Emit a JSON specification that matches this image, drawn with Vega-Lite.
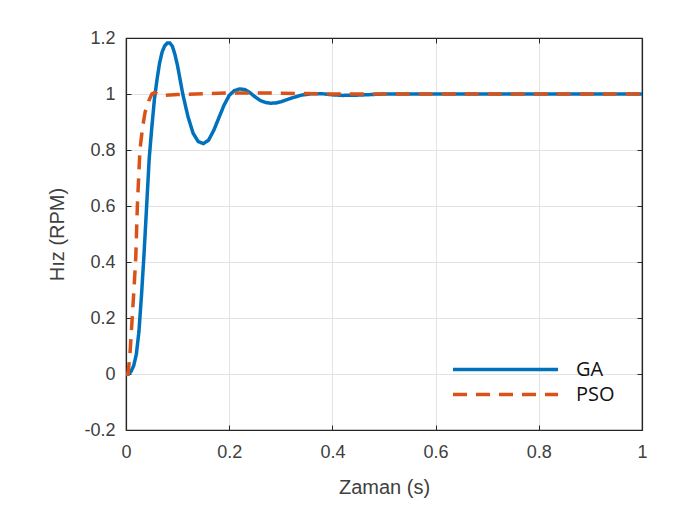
{
  "$schema": "https://vega.github.io/schema/vega-lite/v6.json",
  "width": 516,
  "height": 392,
  "autosize": {"type": "none"},
  "padding": {"left": 126, "top": 38, "right": 37, "bottom": 82},
  "background": "white",
  "config": {
    "view": {"stroke": "#262626", "strokeWidth": 1.2},
    "font": "Liberation Sans",
    "axis": {
      "labelFont": "Liberation Sans",
      "titleFont": "Liberation Sans",
      "labelColor": "#404040",
      "titleColor": "#404040",
      "labelFontSize": 18,
      "titleFontSize": 20,
      "titleFontWeight": "normal",
      "domainColor": "#262626",
      "tickColor": "#262626",
      "gridColor": "#e3e3e3",
      "gridWidth": 1,
      "labelFlush": false
    }
  },
  "data": {
    "values": [
      {"t": 0, "y": 0, "series": "GA"},
      {"t": 0.005, "y": 0, "series": "GA"},
      {"t": 0.01, "y": 0.01, "series": "GA"},
      {"t": 0.015, "y": 0.03, "series": "GA"},
      {"t": 0.02, "y": 0.07, "series": "GA"},
      {"t": 0.025, "y": 0.15, "series": "GA"},
      {"t": 0.03, "y": 0.28, "series": "GA"},
      {"t": 0.035, "y": 0.43, "series": "GA"},
      {"t": 0.04, "y": 0.6, "series": "GA"},
      {"t": 0.045, "y": 0.77, "series": "GA"},
      {"t": 0.05, "y": 0.88, "series": "GA"},
      {"t": 0.055, "y": 0.98, "series": "GA"},
      {"t": 0.06, "y": 1.05, "series": "GA"},
      {"t": 0.065, "y": 1.11, "series": "GA"},
      {"t": 0.07, "y": 1.15, "series": "GA"},
      {"t": 0.075, "y": 1.172, "series": "GA"},
      {"t": 0.08, "y": 1.182, "series": "GA"},
      {"t": 0.085, "y": 1.182, "series": "GA"},
      {"t": 0.09, "y": 1.17, "series": "GA"},
      {"t": 0.095, "y": 1.14, "series": "GA"},
      {"t": 0.1, "y": 1.1, "series": "GA"},
      {"t": 0.105, "y": 1.05, "series": "GA"},
      {"t": 0.11, "y": 1.0, "series": "GA"},
      {"t": 0.115, "y": 0.96, "series": "GA"},
      {"t": 0.12, "y": 0.92, "series": "GA"},
      {"t": 0.13, "y": 0.86, "series": "GA"},
      {"t": 0.14, "y": 0.83, "series": "GA"},
      {"t": 0.15, "y": 0.823, "series": "GA"},
      {"t": 0.16, "y": 0.835, "series": "GA"},
      {"t": 0.17, "y": 0.87, "series": "GA"},
      {"t": 0.18, "y": 0.915, "series": "GA"},
      {"t": 0.19, "y": 0.96, "series": "GA"},
      {"t": 0.2, "y": 0.995, "series": "GA"},
      {"t": 0.21, "y": 1.012, "series": "GA"},
      {"t": 0.22, "y": 1.018, "series": "GA"},
      {"t": 0.23, "y": 1.016, "series": "GA"},
      {"t": 0.24, "y": 1.005, "series": "GA"},
      {"t": 0.25, "y": 0.99, "series": "GA"},
      {"t": 0.26, "y": 0.977, "series": "GA"},
      {"t": 0.27, "y": 0.97, "series": "GA"},
      {"t": 0.28, "y": 0.967, "series": "GA"},
      {"t": 0.29, "y": 0.968, "series": "GA"},
      {"t": 0.3, "y": 0.972, "series": "GA"},
      {"t": 0.32, "y": 0.985, "series": "GA"},
      {"t": 0.34, "y": 0.996, "series": "GA"},
      {"t": 0.36, "y": 1.001, "series": "GA"},
      {"t": 0.38, "y": 1.001, "series": "GA"},
      {"t": 0.4, "y": 0.997, "series": "GA"},
      {"t": 0.42, "y": 0.995, "series": "GA"},
      {"t": 0.45, "y": 0.996, "series": "GA"},
      {"t": 0.5, "y": 1.0, "series": "GA"},
      {"t": 0.6, "y": 1.0, "series": "GA"},
      {"t": 1.0, "y": 1.0, "series": "GA"},
      {"t": 0, "y": 0, "series": "PSO"},
      {"t": 0.004, "y": 0, "series": "PSO"},
      {"t": 0.008, "y": 0.08, "series": "PSO"},
      {"t": 0.012, "y": 0.2, "series": "PSO"},
      {"t": 0.016, "y": 0.32, "series": "PSO"},
      {"t": 0.019, "y": 0.42, "series": "PSO"},
      {"t": 0.022, "y": 0.6, "series": "PSO"},
      {"t": 0.027, "y": 0.8, "series": "PSO"},
      {"t": 0.032, "y": 0.88, "series": "PSO"},
      {"t": 0.037, "y": 0.935, "series": "PSO"},
      {"t": 0.044, "y": 0.975, "series": "PSO"},
      {"t": 0.05, "y": 1.0, "series": "PSO"},
      {"t": 0.056, "y": 1.005, "series": "PSO"},
      {"t": 0.062, "y": 0.998, "series": "PSO"},
      {"t": 0.07, "y": 0.995, "series": "PSO"},
      {"t": 0.1, "y": 0.998, "series": "PSO"},
      {"t": 0.2, "y": 1.004, "series": "PSO"},
      {"t": 0.3, "y": 1.003, "series": "PSO"},
      {"t": 0.4, "y": 1.0, "series": "PSO"},
      {"t": 1.0, "y": 1.0, "series": "PSO"}
    ]
  },
  "resolve": {"axis": {"x": "independent", "y": "independent"}},
  "layer": [
    {
      "mark": {"type": "line", "strokeWidth": 3.5, "clip": true, "strokeCap": "butt"},
      "encoding": {
        "x": {
          "field": "t", "type": "quantitative",
          "scale": {"domain": [0, 1], "nice": false},
          "axis": {"title": "Zaman (s)", "values": [0, 0.2, 0.4, 0.6, 0.8, 1], "format": "~g", "tickSize": -5, "labelPadding": 18, "titlePadding": 16, "domainWidth": 1.2}
        },
        "y": {
          "field": "y", "type": "quantitative",
          "scale": {"domain": [-0.2, 1.2], "nice": false, "zero": false},
          "axis": {"title": "Hız (RPM)", "values": [-0.2, 0, 0.2, 0.4, 0.6, 0.8, 1, 1.2], "format": "~g", "labelExpr": "replace(datum.label, '−', '-')", "tickSize": -5, "labelPadding": 16, "titlePadding": 16, "domainWidth": 1.2}
        },
        "stroke": {
          "field": "series", "type": "nominal",
          "scale": {"domain": ["GA", "PSO"], "range": ["#0072BD", "#D95319"]},
          "legend": {
            "title": null,
            "orient": "none",
            "legendX": 325,
            "legendY": 321,
            "symbolType": "stroke",
            "symbolSize": 11025,
            "symbolStrokeWidth": 3.5,
            "clipHeight": 21,
            "labelFont": "Open Sans",
            "labelFontSize": 20,
            "labelColor": "#111111",
            "labelOffset": 16,
            "rowPadding": 4,
            "padding": 0
          }
        },
        "strokeDash": {
          "field": "series", "type": "nominal",
          "scale": {"domain": ["GA", "PSO"], "range": [[1, 0], [14, 9]]},
          "legend": null
        }
      }
    },
    {
      "mark": {"type": "line", "strokeOpacity": 0},
      "encoding": {
        "x": {
          "field": "t", "type": "quantitative",
          "scale": {"domain": [0, 1], "nice": false},
          "axis": {"orient": "top", "title": null, "labels": false, "grid": false, "values": [0, 0.2, 0.4, 0.6, 0.8, 1], "tickSize": -5, "domainWidth": 1.2}
        },
        "y": {
          "field": "y", "type": "quantitative",
          "scale": {"domain": [-0.2, 1.2], "nice": false, "zero": false},
          "axis": {"orient": "right", "title": null, "labels": false, "grid": false, "values": [-0.2, 0, 0.2, 0.4, 0.6, 0.8, 1, 1.2], "tickSize": -5, "domainWidth": 1.2}
        },
        "detail": {"field": "series", "type": "nominal"}
      }
    }
  ]
}
